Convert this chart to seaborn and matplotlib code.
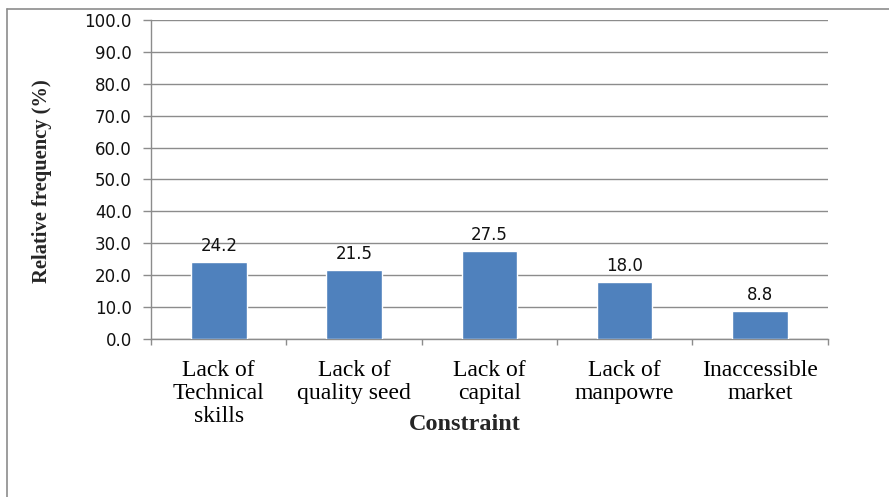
import matplotlib
matplotlib.use("Agg")
import matplotlib.pyplot as plt
from matplotlib.lines import Line2D
import seaborn as sns
import pandas as pd

constraints = ["Lack of\nTechnical\nskills", "Lack of\nquality seed", "Lack of\ncapital",
               "Lack of\nmanpowre", "Inaccessible\nmarket"]
frequency = [24.2, 21.5, 27.5, 18.0, 8.8]
y_ticks = [0, 10, 20, 30, 40, 50, 60, 70, 80, 90, 100]

sns.set_theme(style="white")
plt.rcParams["font.family"] = ["DejaVu Sans"]

df = pd.DataFrame({"Constraint": constraints, "Frequency": frequency})

fig = plt.figure(figsize=(8.89, 4.97), dpi=100)
ax = fig.add_axes([0.170, 0.318, 0.761, 0.642])

bar_color = "#4F81BD"
grid_color = "#8C8C8C"

sns.barplot(data=df, x="Constraint", y="Frequency", color=bar_color,
            width=0.41, saturation=1, ax=ax, zorder=3)

ax.set_ylim(0, 100)
ax.set_xlim(-0.5, len(constraints) - 0.5)
ax.set_yticks(y_ticks)
ax.set_yticklabels([f"{v:.1f}" for v in y_ticks], fontsize=12, color="#111111")
ax.yaxis.grid(True, color=grid_color, linewidth=1.0, zorder=0)
ax.set_axisbelow(True)

for s in ["top", "right"]:
    ax.spines[s].set_visible(False)
for s in ["left", "bottom"]:
    ax.spines[s].set_color(grid_color)
    ax.spines[s].set_linewidth(1.0)

ax.tick_params(axis="y", which="major", length=6, width=1.0, color=grid_color,
               direction="out", pad=8, left=True)

# category labels centred under bars, tick marks at category boundaries
ax.set_xticks(range(len(constraints)))
ax.set_xticklabels(constraints, fontsize=17, family="Liberation Serif",
                   linespacing=1.12, color="black")
ax.tick_params(axis="x", which="major", length=0, pad=15)
ax.set_xticks([i - 0.5 for i in range(len(constraints) + 1)], minor=True)
ax.tick_params(axis="x", which="minor", length=4.5, width=1.0, color=grid_color,
               direction="out", bottom=True)

for i, v in enumerate(frequency):
    ax.annotate(f"{v:.1f}", (i, v), xytext=(0, 5), textcoords="offset points",
                ha="center", va="bottom", fontsize=12, color="#111111")

ax.set_xlabel("Constraint", fontsize=17.5, fontweight="bold", family="Liberation Serif")
ax.xaxis.set_label_coords(0.464, -0.235)
ax.set_ylabel("Relative frequency (%)", fontsize=14.8, fontweight="bold",
              family="Liberation Serif")
ax.yaxis.set_label_coords(-0.146, 0.495)

# chart frame
fig.add_artist(Line2D([7 / 889, 1.0], [1 - 9 / 497, 1 - 9 / 497],
                      transform=fig.transFigure, color="#8C8C8C", linewidth=1.2))
fig.add_artist(Line2D([7 / 889, 7 / 889], [0.0, 1 - 9 / 497],
                      transform=fig.transFigure, color="#8C8C8C", linewidth=1.2))

fig.savefig("out.png", dpi=100)
